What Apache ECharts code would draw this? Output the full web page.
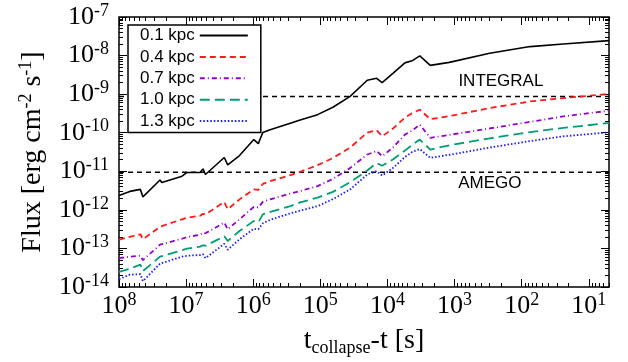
<!DOCTYPE html>
<html>
<head>
<meta charset="utf-8">
<script src="https://cdn.jsdelivr.net/npm/echarts@6/dist/echarts.min.js"></script>
<style>
  html, body { margin: 0; padding: 0; background: #fff; }
  #chart { width: 628px; height: 362px; }
</style>
</head>
<body>
<div id="chart"></div>
<script>
// time before collapse [s], shared by all curves
const tSec = [1e8, 6.9e7, 4.8e7, 4.4e7, 2.45e7, 2.3e7, 1.15e7, 9.7e6, 6.2e6, 5.6e6,
  5.15e6, 2.7e6, 2.4e6, 1.6e6, 9.8e5, 8.4e5, 7.2e5, 5.6e5, 2.8e5, 2.0e5,
  1.1e5, 6.5e4, 3.6e4, 2.0e4, 1.45e4, 1.2e4, 8.3e3, 5.5e3, 4.3e3, 3.3e3,
  2.3e3, 1.2e3, 300, 75, 24, 5];

// flux [erg cm^-2 s^-1] per distance
const flux01 = [2.37e-12, 3.01e-12, 3.39e-12, 2.17e-12, 5.96e-12, 5.14e-12, 7.46e-12, 9.31e-12, 9.3e-12, 1.15e-11,
  8.26e-12, 2.28e-11, 1.46e-11, 2.56e-11, 6.64e-11, 5.22e-11, 1.01e-10, 1.2e-10, 1.77e-10, 2.14e-10,
  2.94e-10, 4.58e-10, 8.73e-10, 2.29e-9, 2.58e-9, 2.0e-9, 3.47e-9, 6.47e-9, 7.3e-9, 9.82e-9,
  5.58e-9, 6.67e-9, 1.15e-8, 1.71e-8, 2.0e-8, 2.44e-8];
const flux04 = [1.68e-13, 2.0e-13, 2.33e-13, 1.73e-13, 3.64e-13, 3.75e-13, 5.69e-13, 6.28e-13, 7.0e-13, 7.89e-13,
  7.65e-13, 1.61e-12, 1.03e-12, 1.87e-12, 3.39e-12, 3.3e-12, 4.7e-12, 5.55e-12, 7.98e-12, 9.7e-12,
  1.44e-11, 2.21e-11, 4.12e-11, 1.01e-10, 1.17e-10, 8.07e-11, 1.28e-10, 2.45e-10, 3.21e-10, 3.95e-10,
  2.24e-10, 2.69e-10, 4.37e-10, 6.47e-10, 7.93e-10, 1.01e-9];
const flux07 = [5.58e-14, 6.11e-14, 6.47e-14, 4.95e-14, 1.25e-13, 1.29e-13, 1.78e-13, 1.97e-13, 2.26e-13, 2.55e-13,
  2.47e-13, 4.67e-13, 3.13e-13, 5.69e-13, 1.2e-12, 1.16e-12, 1.61e-12, 1.87e-12, 2.65e-12, 3.08e-12,
  4.12e-12, 6.32e-12, 1.22e-11, 2.72e-11, 3.35e-11, 2.45e-11, 4.12e-11, 8.93e-11, 1.13e-10, 1.62e-10,
  7.35e-11, 8.77e-11, 1.29e-10, 1.91e-10, 2.65e-10, 3.72e-10];
const flux10 = [2.47e-14, 2.99e-14, 3.79e-14, 2.58e-14, 6.11e-14, 6.28e-14, 8.97e-14, 9.93e-14, 1.11e-13, 1.21e-13,
  1.17e-13, 2.07e-13, 1.56e-13, 2.83e-13, 5.14e-13, 4.75e-13, 7.65e-13, 8.87e-13, 1.25e-12, 1.56e-12,
  2.07e-12, 2.92e-12, 5.2e-12, 1.05e-11, 1.64e-11, 1.39e-11, 2.02e-11, 3.44e-11, 4.79e-11, 6.64e-11,
  3.66e-11, 4.72e-11, 7.13e-11, 1.04e-10, 1.33e-10, 1.79e-10];
const flux13 = [1.6e-14, 2.09e-14, 2.15e-14, 1.42e-14, 4.03e-14, 4.15e-14, 6.11e-14, 6.47e-14, 6.75e-14, 7.08e-14,
  5.58e-14, 1.32e-13, 9.25e-14, 1.73e-13, 3.23e-13, 3.13e-13, 4.48e-13, 5.52e-13, 8.13e-13, 9.53e-13,
  1.25e-12, 1.9e-12, 3.39e-12, 8.26e-12, 1.01e-11, 7.78e-12, 1.21e-11, 2.34e-11, 3.15e-11, 3.77e-11,
  2.23e-11, 2.67e-11, 4.12e-11, 6.07e-11, 8.07e-11, 1.02e-10];

const seriesNames = ['0.1 kpc', '0.4 kpc', '0.7 kpc', '1.0 kpc', '1.3 kpc'];

// detector sensitivities, drawn across the whole time range
const refNames = ['INTEGRAL', 'AMEGO'];
const refFlux = [8.7e-10, 9.5e-12];
const refLabelAt = [[204, 2.09e-9], [298, 4.84e-12]];
const tRange = [1e8, 5];

const xMajor = [1e8, 1e7, 1e6, 1e5, 1e4, 1e3, 1e2, 1e1];
const yMajor = [1e-14, 1e-13, 1e-12, 1e-11, 1e-10, 1e-9, 1e-8, 1e-7];

function minorTicks(majors, lo, hi) {
  const out = [];
  majors.forEach(m => {
    for (let k = 2; k <= 9; k++) {
      const v = m * k;
      if (v >= lo && v <= hi) out.push(v);
    }
  });
  return out;
}
const xMinor = minorTicks([1, 1e1, 1e2, 1e3, 1e4, 1e5, 1e6, 1e7], 5, 1e8);
const yMinor = minorTicks([1e-14, 1e-13, 1e-12, 1e-11, 1e-10, 1e-9, 1e-8], 1e-14, 1e-7);

const serif = 'Liberation Serif';
const sans = 'Liberation Sans';

function powLabel(v) {
  const e = Math.round(Math.log10(v));
  return '{b|10}{s|' + e + '}';
}
const powRich = {
  b: { fontFamily: serif, fontSize: 26, lineHeight: 30, color: '#000' },
  s: { fontFamily: serif, fontSize: 18, lineHeight: 14, verticalAlign: 'top', color: '#000' }
};

function xAxisCfg(pos, ticks, len, labels) {
  return {
    type: 'log', position: pos, min: 5, max: 1e8, inverse: true,
    axisLine: { show: false },
    splitLine: { show: false },
    minorTick: { show: false },
    axisTick: { show: true, inside: true, length: len, customValues: ticks,
      lineStyle: { color: '#000', width: 1 } },
    axisLabel: labels ? {
      show: true, margin: 4, customValues: xMajor, formatter: powLabel, rich: powRich
    } : { show: false },
    name: labels ? 't{sub|collapse}-t [s]' : '',
    nameLocation: 'middle',
    nameGap: 38,
    nameMoveOverlap: false,
    nameTextStyle: {
      fontFamily: serif, fontSize: 28, lineHeight: 32, color: '#000',
      rich: {
        sub: { fontFamily: serif, fontSize: 18, lineHeight: 16, verticalAlign: 'bottom', color: '#000' }
      }
    }
  };
}

function yAxisCfg(pos, ticks, len, labels) {
  return {
    type: 'log', position: pos, min: 1e-14, max: 1e-7,
    axisLine: { show: false },
    splitLine: { show: false },
    minorTick: { show: false },
    axisTick: { show: true, inside: true, length: len, customValues: ticks,
      lineStyle: { color: '#000', width: 1 } },
    axisLabel: labels ? {
      show: true, margin: 10, customValues: yMajor, formatter: powLabel, rich: powRich
    } : { show: false },
    name: labels ? 'Flux [erg cm{sup|-2} s{sup|-1}]' : '',
    nameLocation: 'middle',
    nameGap: 70,
    nameMoveOverlap: false,
    nameTextStyle: {
      fontFamily: serif, fontSize: 28, lineHeight: 32, color: '#000',
      rich: {
        sup: { fontFamily: serif, fontSize: 18, lineHeight: 12, verticalAlign: 'top', color: '#000' }
      }
    }
  };
}

const fluxSets = [flux01, flux04, flux07, flux10, flux13];
const lineStyles = [
  { color: '#000000', type: 'solid' },
  { color: '#ff1a1a', type: [6, 4] },
  { color: '#9400d3', type: [5, 3, 1, 3] },
  { color: '#009e73', type: [10, 5] },
  { color: '#1a1aff', type: [1.5, 2] }
];

const series = fluxSets.map((vals, i) => ({
  name: seriesNames[i],
  type: 'line',
  xAxisIndex: 0,
  yAxisIndex: 0,
  showSymbol: false,
  symbol: 'none',
  data: tSec.map((t, j) => [t, vals[j]]),
  lineStyle: { color: lineStyles[i].color, type: lineStyles[i].type, width: i === 0 ? 1.6 : 1.8 },
  itemStyle: { color: lineStyles[i].color },
  z: 10 - i
}));

refFlux.forEach((f, i) => {
  series.push({
    name: refNames[i],
    type: 'line',
    xAxisIndex: 0,
    yAxisIndex: 0,
    showSymbol: false,
    symbol: 'none',
    silent: true,
    data: tRange.map(t => [t, f]),
    lineStyle: { color: '#000', type: [5, 4], width: 1.5 },
    z: 3,
    markPoint: {
      silent: true,
      symbol: 'circle',
      symbolSize: 0,
      label: { show: true, position: 'inside', fontFamily: sans, fontSize: 17, color: '#000',
        formatter: refNames[i] },
      data: [{ coord: refLabelAt[i] }]
    }
  });
});

const chart = echarts.init(document.getElementById('chart'), null, { renderer: 'canvas' });
chart.setOption({
  animation: false,
  backgroundColor: '#fff',
  grid: {
    left: 119, right: 19, top: 17, bottom: 73,
    show: true, borderColor: '#000', borderWidth: 1.5, backgroundColor: 'transparent'
  },
  legend: {
    data: seriesNames,
    orient: 'vertical',
    left: 128,
    top: 25,
    align: 'right',
    itemWidth: 48,
    itemHeight: 12,
    itemGap: 2.4,
    padding: [1, 12, 2, 12],
    borderColor: '#000',
    borderWidth: 1.5,
    borderRadius: 0,
    backgroundColor: '#fff',
    itemStyle: { color: 'rgba(0,0,0,0)', borderWidth: 0, opacity: 0 },
    textStyle: { fontFamily: sans, fontSize: 17, lineHeight: 19, color: '#000' }
  },
  xAxis: [
    xAxisCfg('bottom', xMajor, 8, true),
    xAxisCfg('bottom', xMinor, 4, false),
    xAxisCfg('top', xMajor, 8, false),
    xAxisCfg('top', xMinor, 4, false)
  ],
  yAxis: [
    yAxisCfg('left', yMajor, 8, true),
    yAxisCfg('left', yMinor, 4, false),
    yAxisCfg('right', yMajor, 8, false),
    yAxisCfg('right', yMinor, 4, false)
  ],
  series: series
});
</script>
</body>
</html>
